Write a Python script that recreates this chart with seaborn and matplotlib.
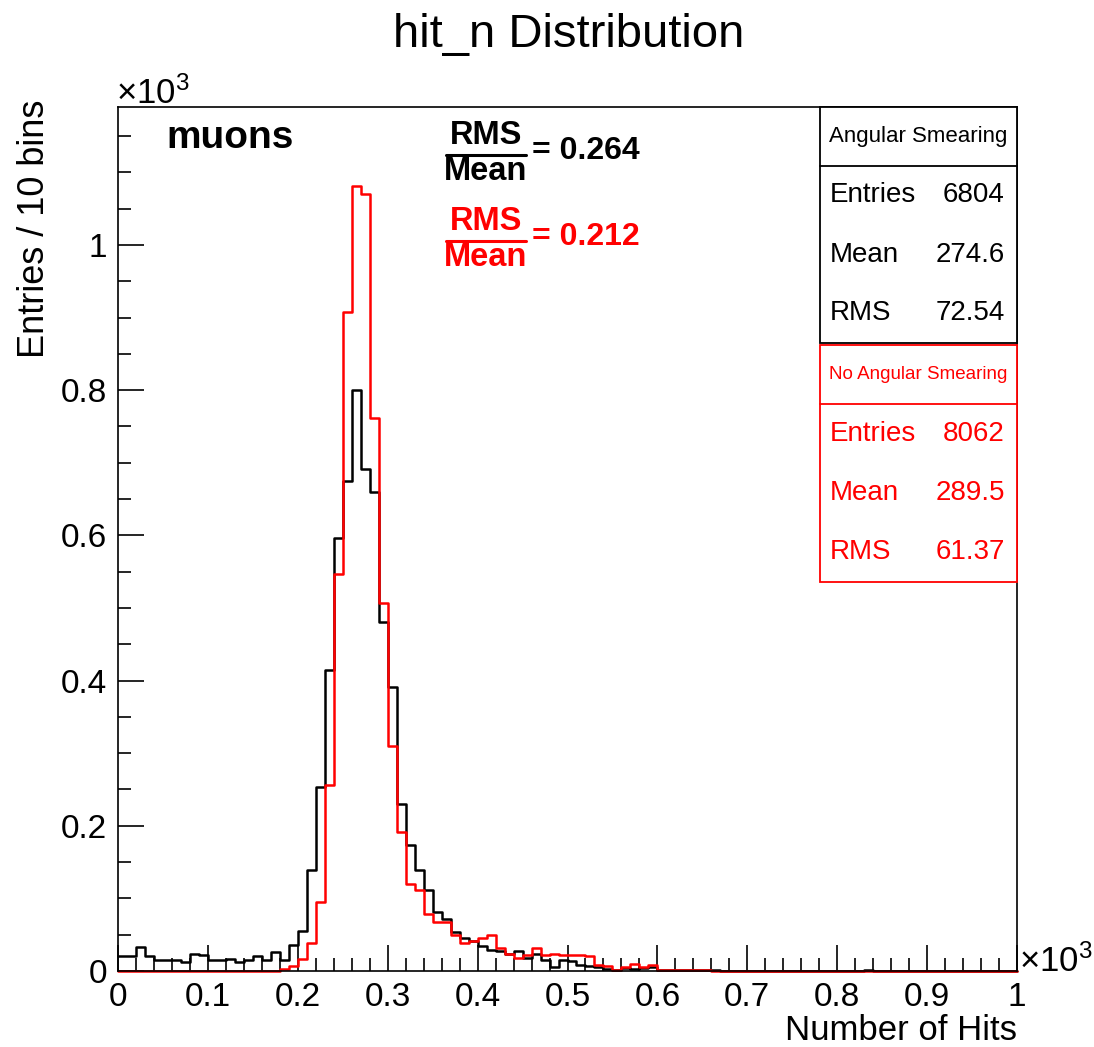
import numpy as np
import pandas as pd
import matplotlib
matplotlib.use("Agg")
import matplotlib.pyplot as plt
import seaborn as sns
from matplotlib.patches import Rectangle
from matplotlib.lines import Line2D

sns.set_style("white")
plt.rcParams['font.family'] = ['Liberation Sans', 'DejaVu Sans']
plt.rcParams['mathtext.fontset'] = 'custom'
plt.rcParams['mathtext.rm'] = 'Liberation Sans'
plt.rcParams['text.color'] = 'black'
plt.rcParams['xtick.color'] = 'black'
plt.rcParams['ytick.color'] = 'black'

# 100 bins of width 10 between 0 and 1000 hits
bin_edges = list(range(0, 1001, 10))

# entries per bin
smeared_counts = [
    20, 20, 33, 21, 15, 15, 15, 12, 24, 22,
    15, 15, 17, 12, 15, 20, 15, 26, 15, 36,
    55, 139, 254, 415, 596, 675, 800, 691, 660, 480,
    391, 230, 174, 139, 112, 81, 72, 54, 46, 41,
    34, 29, 28, 23, 28, 18, 23, 15, 6, 15,
    14, 8, 7, 5, 3, 2, 4, 3, 4, 5,
    1, 2, 1, 1, 1, 1, 1, 0, 0, 0,
    0, 0, 0, 0, 0, 0, 0, 0, 0, 0,
    0, 0, 0, 2, 0, 0, 0, 0, 0, 0,
    0, 0, 0, 0, 0, 0, 0, 0, 0, 0,
]
unsmeared_counts = [
    0, 0, 0, 0, 0, 0, 0, 0, 0, 0,
    0, 0, 0, 0, 0, 0, 0, 0, 3, 7,
    16, 39, 95, 256, 547, 907, 1081, 1070, 761, 507,
    310, 191, 120, 111, 78, 68, 68, 50, 38, 42,
    46, 49, 32, 23, 18, 22, 31, 22, 23, 22,
    22, 22, 21, 8, 7, 2, 6, 10, 5, 8,
    1, 1, 1, 1, 1, 1, 0, 0, 0, 0,
    0, 0, 0, 0, 0, 0, 0, 0, 0, 0,
    0, 0, 0, 0, 0, 0, 0, 0, 0, 0,
    0, 0, 0, 0, 0, 0, 0, 0, 0, 0,
]

x_tick_labels = ["0", "0.1", "0.2", "0.3", "0.4", "0.5", "0.6", "0.7", "0.8", "0.9", "1"]
y_tick_labels = ["0", "0.2", "0.4", "0.6", "0.8", "1"]

smeared_stats = [("Entries", "6804"), ("Mean", "274.6"), ("RMS", "72.54")]
unsmeared_stats = [("Entries", "8062"), ("Mean", "289.5"), ("RMS", "61.37")]
smeared_ratio = "0.264"
unsmeared_ratio = "0.212"

df = pd.DataFrame({
    "hits": np.array(bin_edges[:-1]) + 5,
    "smeared": smeared_counts,
    "unsmeared": unsmeared_counts,
})

W, H = 1094, 1047


def fx(px):
    return px / W


def fy(py):
    return 1 - py / H


fig = plt.figure(figsize=(W / 100, H / 100), dpi=100)
ax = fig.add_axes([fx(118), fy(971), (1017 - 118) / W, (971 - 107) / H])

sns.histplot(data=df, x="hits", weights="smeared", bins=bin_edges,
             element="step", fill=False, color="black", linewidth=1.8, ax=ax)
sns.histplot(data=df, x="hits", weights="unsmeared", bins=bin_edges,
             element="step", fill=False, color="#ff0000", linewidth=1.8, ax=ax)
for ln in ax.lines:
    ln.set_clip_on(False)

ax.set_xlim(0, 1000)
ax.set_ylim(0, 1190)
ax.set_xlabel("")
ax.set_ylabel("")

ax.set_xticks(np.arange(0, 1001, 100))
ax.set_xticklabels(x_tick_labels)
ax.set_xticks(np.arange(0, 1001, 20), minor=True)
ax.set_yticks(np.arange(0, 1001, 200))
ax.set_yticklabels(y_tick_labels)
ax.set_yticks(np.arange(0, 1190, 50), minor=True)
ax.tick_params(which="major", direction="in", length=19, width=1.2,
               labelsize=24, pad=8, bottom=True, left=True, top=False, right=False,
               color="black", labelcolor="black")
ax.tick_params(which="minor", direction="in", length=9.5, width=1.2,
               bottom=True, left=True, top=False, right=False, color="black")
for s in ax.spines.values():
    s.set_linewidth(1.2)
    s.set_color("black")

# titles and axis texts, placed like ROOT does
fig.text(fx(569), fy(35), "hit_n Distribution", fontsize=34, ha="center", va="center")
fig.text(fx(116), fy(104), r"$\mathregular{\times10^{3}}$", fontsize=25, ha="left", va="baseline")
fig.text(fx(1019), fy(972), r"$\mathregular{\times10^{3}}$", fontsize=25, ha="left", va="baseline")
fig.text(fx(1017), fy(1030), "Number of Hits", fontsize=25, ha="right", va="center")
fig.text(fx(35), fy(100), "Entries / 10 bins", fontsize=26, rotation=90,
         ha="center", va="top")
fig.text(fx(166), fy(138), "muons", fontsize=28, fontweight="bold", ha="left", va="center")

# RMS / Mean fractions
for color, ratio, y_line in [("black", smeared_ratio, 155), ("#ff0000", unsmeared_ratio, 241)]:
    fig.text(fx(486), fy(y_line - 19), "RMS", fontsize=23.5, fontweight="bold",
             color=color, ha="center", va="center")
    fig.text(fx(486), fy(y_line + 17), "Mean", fontsize=23.5, fontweight="bold",
             color=color, ha="center", va="center")
    fig.add_artist(Line2D([fx(446), fx(526)], [fy(y_line), fy(y_line)],
                          transform=fig.transFigure, color=color, lw=2.2))
    fig.text(fx(532), fy(y_line - 4), "= " + ratio, fontsize=23, fontweight="bold",
             color=color, ha="left", va="center")

# stats boxes
boxes = [
    ("black", "Angular Smearing", 16, smeared_stats, 107, 166, 343),
    ("#ff0000", "No Angular Smearing", 13.5, unsmeared_stats, 345, 404, 582),
]
for color, name, name_size, stats, top, sep, bottom in boxes:
    fig.add_artist(Rectangle((fx(820), fy(bottom)), (1017 - 820) / W, (bottom - top) / H,
                             transform=fig.transFigure, facecolor="white",
                             edgecolor=color, lw=1.3, zorder=5))
    fig.add_artist(Line2D([fx(820), fx(1017)], [fy(sep), fy(sep)],
                          transform=fig.transFigure, color=color, lw=1.3, zorder=6))
    fig.text(fx(918), fy((top + sep) / 2), name, fontsize=name_size, color=color,
             ha="center", va="center", zorder=7)
    row_h = (bottom - sep) / 3
    for i, (lab, val) in enumerate(stats):
        yc = sep + row_h * (i + 0.5)
        fig.text(fx(830), fy(yc), lab, fontsize=20, color=color,
                 ha="left", va="center", zorder=7)
        fig.text(fx(1005), fy(yc), val, fontsize=20, color=color,
                 ha="right", va="center", zorder=7)

fig.savefig("out.png", dpi=100, facecolor="white")
